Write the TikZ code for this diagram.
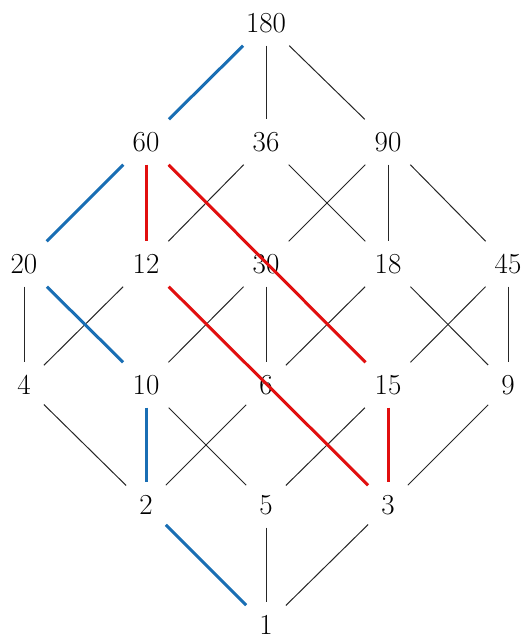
\documentclass[tikz,border=0pt]{standalone}
\usepackage{tikz}
\definecolor{pathblue}{RGB}{25,110,180}
\definecolor{pathred}{RGB}{225,15,15}
\tikzset{
  num/.style={inner sep=13pt, text height=19pt, text depth=0pt, font=\fontsize{29}{34}\selectfont},
  plain/.style={draw=black!85, line width=1pt},
  blueedge/.style={draw=pathblue, line width=3pt},
  rededge/.style={draw=pathred, line width=3pt}
}
\begin{document}
\begin{tikzpicture}[x=1pt,y=-1pt]
\useasboundingbox (0,0) rectangle (525,635);
\node[num] (n180) at (266,23) {180};
\node[num] (n60) at (146,142) {60};
\node[num] (n36) at (266,142) {36};
\node[num] (n90) at (388,142) {90};
\node[num] (n20) at (24,264) {20};
\node[num] (n12) at (146,264) {12};
\node[num] (n30) at (266,264) {30};
\node[num] (n18) at (388,264) {18};
\node[num] (n45) at (508,264) {45};
\node[num] (n4) at (24,385) {4};
\node[num] (n10) at (146,385) {10};
\node[num] (n6) at (266,385) {6};
\node[num] (n15) at (388,385) {15};
\node[num] (n9) at (508,385) {9};
\node[num] (n2) at (146,505) {2};
\node[num] (n5) at (266,505) {5};
\node[num] (n3) at (388,505) {3};
\node[num] (n1) at (266,625) {1};
% black edges
\foreach \a/\b in {n180/n36, n180/n90, n36/n12, n36/n18, n90/n30, n90/n18, n90/n45,
  n20/n4, n12/n4, n30/n10, n30/n6, n18/n6, n18/n9, n45/n15, n45/n9,
  n4/n2, n10/n5, n6/n2, n15/n5, n9/n3, n5/n1, n3/n1}
  \draw[plain] (\a) -- (\b);
% blue path
\foreach \a/\b in {n180/n60, n60/n20, n20/n10, n10/n2, n2/n1}
  \draw[blueedge] (\a) -- (\b);
% red paths
\foreach \a/\b in {n60/n12, n60/n15, n12/n3, n15/n3}
  \draw[rededge] (\a) -- (\b);
\end{tikzpicture}
\end{document}
